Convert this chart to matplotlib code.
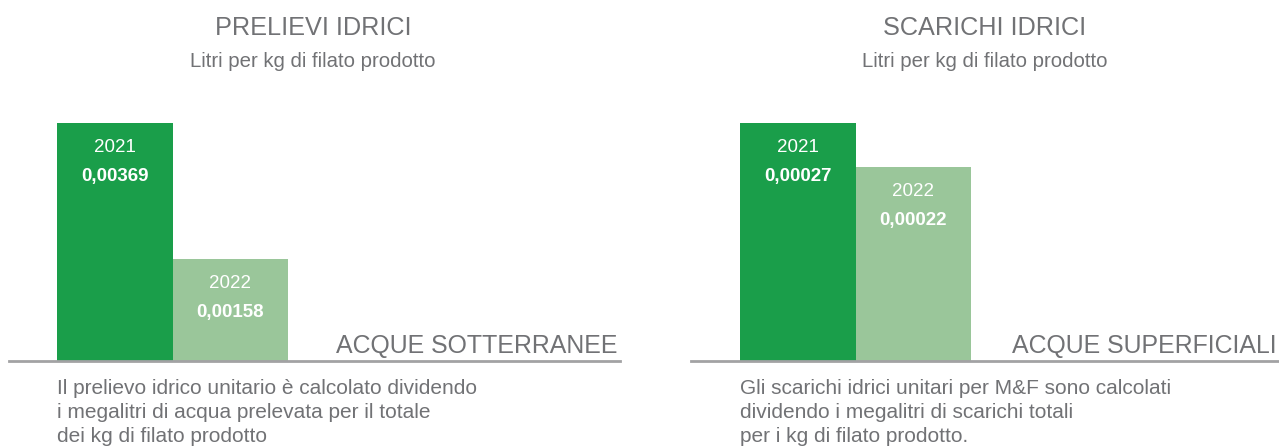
import numpy as np
import matplotlib.pyplot as plt

plt.rcParams['font.family'] = ['Liberation Sans', 'DejaVu Sans']

# -- Data --
years = ['2021', '2022']
prelievi = [0.00369, 0.00158]
scarichi = [0.00027, 0.00022]
value_labels_prel = ['0,00369', '0,00158']
value_labels_scar = ['0,00027', '0,00022']

titles = ['PRELIEVI IDRICI', 'SCARICHI IDRICI']
subtitle = 'Litri per kg di filato prodotto'
categories = ['ACQUE SOTTERRANEE', 'ACQUE SUPERFICIALI']
notes = [
    ['Il prelievo idrico unitario è calcolato dividendo',
     'i megalitri di acqua prelevata per il totale',
     'dei kg di filato prodotto'],
    ['Gli scarichi idrici unitari per M&F sono calcolati',
     'dividendo i megalitri di scarichi totali',
     'per i kg di filato prodotto.'],
]

# -- Style --
W, H = 1279, 448
colors = ['#1a9e4a', '#9ac69a']
text_gray = '#717275'
line_gray = '#a2a2a4'

fig = plt.figure(figsize=(W / 100, H / 100), dpi=100)


def panel(x0, x1, bar_left, values, value_labels, title, category, note_lines, center):
    base_y = 361      # pixel row of the baseline
    bar_h = 238       # pixel height of the tallest bar
    bar_w = 115.5     # pixel width of one bar
    ax = fig.add_axes([x0 / W, 1 - base_y / H, (x1 - x0) / W, bar_h / H])
    left = -0.5 - (bar_left - x0) / bar_w
    ax.set_xlim(left, left + (x1 - x0) / bar_w)
    ax.set_ylim(0, max(values))
    xs = np.arange(len(values))
    ax.bar(xs, values, width=1.0, color=colors, linewidth=0, clip_on=False)
    ax.axhline(0, color=line_gray, lw=2.0, clip_on=False, zorder=3)
    for x, v, yr, lab in zip(xs, values, years, value_labels):
        ax.annotate(yr, xy=(x, v), xytext=(0, -29), textcoords='offset pixels',
                    ha='center', va='baseline', color='white', fontsize=13.5)
        ax.annotate(lab, xy=(x, v), xytext=(0, -58), textcoords='offset pixels',
                    ha='center', va='baseline', color='white', fontsize=13.5,
                    fontweight='bold')
    ax.annotate(category, xy=(1, 0), xycoords='axes fraction', xytext=(-2, 8),
                textcoords='offset pixels', ha='right', va='baseline',
                color=text_gray, fontsize=17.9)
    ax.axis('off')

    fig.text(center / W, 1 - 35 / H, title, ha='center', va='baseline',
             color=text_gray, fontsize=18.2)
    fig.text(center / W, 1 - 67 / H, subtitle, ha='center', va='baseline',
             color=text_gray, fontsize=14.7)
    for i, line in enumerate(note_lines):
        fig.text(bar_left / W, 1 - (394 + 24 * i) / H, line, ha='left',
                 va='baseline', color=text_gray, fontsize=15)


panel(9, 620, 57, prelievi, value_labels_prel, titles[0], categories[0], notes[0], 313)
panel(691, 1279, 740, scarichi, value_labels_scar, titles[1], categories[1], notes[1], 985)

fig.savefig('out.png', dpi=100)
